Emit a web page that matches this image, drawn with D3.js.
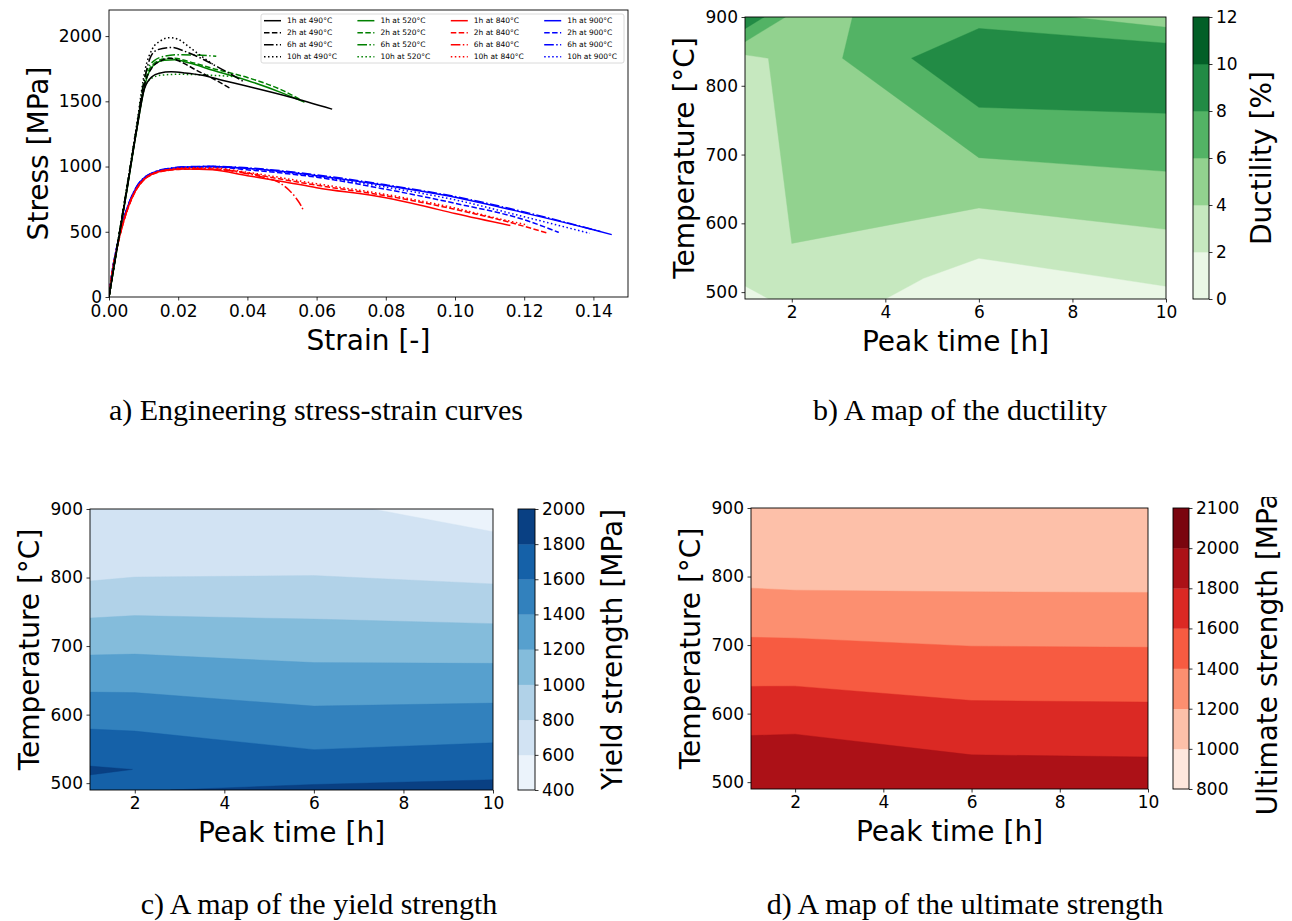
<!DOCTYPE html>
<html>
<head>
<meta charset="utf-8">
<script src="https://cdn.jsdelivr.net/npm/d3@7"></script>
<style>
  body { margin: 0; background: #fff; }
  svg text { font-family: "DejaVu Sans", sans-serif; fill: #000; }
  svg text.caption { font-family: "Liberation Serif", "Times New Roman", serif; }
</style>
</head>
<body>
<script>
// ---- panel a: stress-strain curves, [strain, stress MPa]
var s490_1h = [[0,0],[0.002,320],[0.005,790],[0.008,1280],[0.0103,1600],[0.0125,1690],[0.0145,1715],[0.018,1726],[0.022,1718],[0.027,1700],[0.033,1660],[0.040,1615],[0.052,1535],[0.0645,1440]];
var s490_2h = [[0,0],[0.002,330],[0.005,800],[0.008,1290],[0.0105,1650],[0.0125,1760],[0.015,1810],[0.0176,1831],[0.021,1800],[0.025,1742],[0.030,1675],[0.0351,1599]];
var s490_6h = [[0,0],[0.002,330],[0.005,810],[0.008,1300],[0.0105,1700],[0.0122,1850],[0.014,1895],[0.018,1913],[0.0227,1875],[0.032,1755],[0.039,1650]];
var s490_10h = [[0,0],[0.002,330],[0.005,820],[0.008,1320],[0.0105,1750],[0.0125,1900],[0.015,1965],[0.0175,1988],[0.020,1975],[0.023,1920],[0.026,1860],[0.030,1785]];
var s520_1h = [[0,0],[0.002,320],[0.005,790],[0.008,1280],[0.0105,1640],[0.013,1780],[0.016,1815],[0.019,1818],[0.023,1795],[0.030,1738],[0.040,1660],[0.050,1565],[0.0565,1493]];
var s520_2h = [[0,0],[0.002,330],[0.005,800],[0.008,1290],[0.0105,1660],[0.013,1790],[0.0165,1828],[0.019,1830],[0.023,1805],[0.030,1752],[0.040,1682],[0.050,1586],[0.0563,1498]];
var s520_6h = [[0,0],[0.002,330],[0.005,810],[0.008,1300],[0.0105,1700],[0.013,1810],[0.016,1845],[0.020,1857],[0.025,1855],[0.031,1845]];
var s520_10h = [[0,0],[0.002,330],[0.005,800],[0.008,1290],[0.010,1580],[0.012,1670],[0.015,1700],[0.020,1707],[0.028,1702],[0.036,1690]];
var s840_1h = [[0,0],[0.001,200],[0.002,340],[0.004,560],[0.006,720],[0.008,830],[0.010,898],[0.013,948],[0.017,972],[0.022,982],[0.030,975],[0.040,930],[0.050,886],[0.060,838],[0.080,760],[0.090,703],[0.100,640],[0.116,548]];
var s840_2h = [[0,0],[0.001,195],[0.002,335],[0.004,555],[0.006,715],[0.008,826],[0.010,895],[0.013,945],[0.017,970],[0.022,980],[0.030,982],[0.040,950],[0.050,902],[0.060,857],[0.080,776],[0.100,672],[0.115,578],[0.127,488]];
var s840_6h = [[0,0],[0.001,200],[0.002,340],[0.004,560],[0.006,720],[0.008,830],[0.010,900],[0.013,950],[0.017,975],[0.022,985],[0.030,980],[0.040,945],[0.045,915],[0.049,880],[0.052,820],[0.054,760],[0.0555,700],[0.0563,657]];
var s840_10h = [[0,0],[0.001,205],[0.002,345],[0.004,565],[0.006,725],[0.008,835],[0.010,903],[0.013,952],[0.017,978],[0.022,990],[0.030,990],[0.040,956],[0.060,868],[0.080,786],[0.100,682],[0.113,598],[0.121,552]];
var s900_1h = [[0,0],[0.001,210],[0.002,350],[0.004,575],[0.006,735],[0.008,845],[0.010,910],[0.013,955],[0.017,982],[0.022,995],[0.028,1000],[0.035,995],[0.045,975],[0.060,930],[0.080,855],[0.100,765],[0.120,645],[0.140,515],[0.1453,478]];
var s900_2h = [[0,0],[0.001,205],[0.002,345],[0.004,570],[0.006,730],[0.008,840],[0.010,906],[0.013,952],[0.017,980],[0.022,993],[0.030,997],[0.040,975],[0.050,950],[0.060,918],[0.080,826],[0.100,718],[0.120,592],[0.130,495]];
var s900_6h = [[0,0],[0.001,210],[0.002,352],[0.004,577],[0.006,737],[0.008,848],[0.010,912],[0.013,958],[0.017,985],[0.022,998],[0.030,1002],[0.040,990],[0.060,936],[0.080,860],[0.100,770],[0.120,652],[0.142,502]];
var s900_10h = [[0,0],[0.001,208],[0.002,348],[0.004,573],[0.006,733],[0.008,843],[0.010,908],[0.013,955],[0.017,982],[0.022,996],[0.030,1000],[0.040,985],[0.060,925],[0.080,842],[0.100,745],[0.120,615],[0.139,488]];

var curveTimes = ["1h", "2h", "6h", "10h"];
var curveTemps = ["490°C", "520°C", "840°C", "900°C"];
var curves = [
  [s490_1h, s490_2h, s490_6h, s490_10h],
  [s520_1h, s520_2h, s520_6h, s520_10h],
  [s840_1h, s840_2h, s840_6h, s840_10h],
  [s900_1h, s900_2h, s900_6h, s900_10h]
];
var strainTicks = [0, 0.02, 0.04, 0.06, 0.08, 0.10, 0.12, 0.14];
var stressTicks = [0, 500, 1000, 1500, 2000];

// ---- maps: rows = temperature, columns = peak time
var peakTimes = [1, 2, 6, 10];
var temps = [490, 520, 840, 900];
var ductility = [
  [0.96, 3.0, 1.0, 1.5],
  [2.6, 3.9, 1.2, 2.31],
  [3.47, 4.53, 9.95, 9.9],
  [9.8, 5.4, 7.25, 4.7]
];
var yieldStrength = [
  [1750, 1790, 1840, 1866],
  [1818, 1799, 1691, 1734],
  [633, 660, 683, 630],
  [620, 630, 618, 563]
];
var ultimateStrength = [
  [1950, 1960, 1880, 1870],
  [1934, 1943, 1850, 1842],
  [1041, 1029, 1043, 1042],
  [1020, 1015, 1020, 1018]
];
var ductLevels = [0, 2, 4, 6, 8, 10, 12];
var yieldLevels = [400, 600, 800, 1000, 1200, 1400, 1600, 1800, 2000];
var utsLevels = [800, 1000, 1200, 1400, 1600, 1800, 2000, 2100];
var timeTicks = [2, 4, 6, 8, 10];
var tempTicks = [500, 600, 700, 800, 900];

var svg = d3.select("body").append("svg")
  .attr("width", 1292)
  .attr("height", 921);

function styleAxis(g) {
  g.select(".domain").remove();
  g.selectAll(".tick line").attr("stroke", "#000").attr("stroke-width", 0.8);
  g.selectAll(".tick text").style("font-size", "17px").attr("fill", "#000");
}

function frame(left, top, right, bottom) {
  svg.append("rect")
    .attr("x", left).attr("y", top)
    .attr("width", right - left).attr("height", bottom - top)
    .attr("fill", "none").attr("stroke", "#000").attr("stroke-width", 0.9);
}

// ================= panel a =================
var ax = { left: 109, right: 628, top: 10, bottom: 297 };
var xa = d3.scaleLinear().domain([0, 0.15]).range([ax.left, ax.right]);
var ya = d3.scaleLinear().domain([0, 2200]).range([ax.bottom, ax.top]);

svg.append("clipPath").attr("id", "clipA")
  .append("rect").attr("x", ax.left).attr("y", ax.top)
  .attr("width", ax.right - ax.left).attr("height", ax.bottom - ax.top);

var tempColors = ["#000000", "#008000", "#ff0000", "#0000ff"];
var timeDashes = [null, "5.5,2.4", "9.6,2.4,1.5,2.4", "1.5,2.5"];

var line = d3.line()
  .x(function(d) { return xa(d[0]); })
  .y(function(d) { return ya(d[1]); })
  .curve(d3.curveMonotoneX);

var gLines = svg.append("g").attr("clip-path", "url(#clipA)");
[3, 2, 1, 0].forEach(function(ti) {
  curves[ti].forEach(function(c, hi) {
    gLines.append("path")
      .datum(c)
      .attr("d", line)
      .attr("fill", "none")
      .attr("stroke", tempColors[ti])
      .attr("stroke-width", 1.5)
      .attr("stroke-dasharray", timeDashes[hi]);
  });
});

svg.append("g")
  .attr("transform", "translate(0," + ax.bottom + ")")
  .call(d3.axisBottom(xa).tickValues(strainTicks).tickFormat(d3.format(".2f")).tickSize(3.5).tickPadding(4.5))
  .call(styleAxis);
svg.append("g")
  .attr("transform", "translate(" + ax.left + ",0)")
  .call(d3.axisLeft(ya).tickValues(stressTicks).tickFormat(d3.format("d")).tickSize(3.5).tickPadding(3.5))
  .call(styleAxis);
frame(ax.left, ax.top, ax.right, ax.bottom);

svg.append("text").text("Strain [-]")
  .attr("x", (ax.left + ax.right) / 2).attr("y", 350)
  .attr("text-anchor", "middle").style("font-size", "28px");
svg.append("text").text("Stress [MPa]")
  .attr("transform", "translate(48," + (ax.top + ax.bottom) / 2 + ") rotate(-90)")
  .attr("text-anchor", "middle").style("font-size", "28px");

// legend
var leg = svg.append("g");
leg.append("rect")
  .attr("x", 261).attr("y", 14).attr("width", 363).attr("height", 49)
  .attr("rx", 2).attr("fill", "#fff").attr("fill-opacity", 0.8)
  .attr("stroke", "#d0d0d0").attr("stroke-width", 0.8);
curveTemps.forEach(function(t, ci) {
  curveTimes.forEach(function(h, ri) {
    var lx = 264 + ci * 93.4, ly = 20.7 + ri * 12;
    leg.append("line")
      .attr("x1", lx).attr("x2", lx + 17).attr("y1", ly).attr("y2", ly)
      .attr("stroke", tempColors[ci]).attr("stroke-width", 1.5)
      .attr("stroke-dasharray", timeDashes[ri]);
    leg.append("text").text(h + " at " + t)
      .attr("x", lx + 23).attr("y", ly + 2.7)
      .style("font-size", "7.5px");
  });
});

// ================= contour maps =================
// d3.contours puts sample i at grid coordinate i + 0.5
function gridToData(g, arr) {
  var t = g - 0.5;
  if (t <= 0) return arr[0];
  if (t >= arr.length - 1) return arr[arr.length - 1];
  var i = Math.floor(t);
  return arr[i] + (t - i) * (arr[i + 1] - arr[i]);
}

function drawMap(opt) {
  var x = d3.scaleLinear().domain([1, 10]).range([opt.left, opt.right]);
  var y = d3.scaleLinear().domain([490, 900]).range([opt.bottom, opt.top]);
  var lv = opt.levels;
  var lo = lv[0], hi = lv[lv.length - 1];
  var colors = d3.range(lv.length - 1).map(function(k) {
    return opt.cmap(((lv[k] + lv[k + 1]) / 2 - lo) / (hi - lo));
  });

  var values = [];
  opt.grid.forEach(function(row) { row.forEach(function(v) { values.push(v); }); });
  var bands = d3.contours()
    .size([peakTimes.length, temps.length])
    .thresholds(lv.slice(0, -1))(values);

  var proj = d3.geoTransform({
    point: function(px, py) {
      this.stream.point(x(gridToData(px, peakTimes)), y(gridToData(py, temps)));
    }
  });
  var path = d3.geoPath(proj);

  var id = "clip" + opt.name;
  svg.append("clipPath").attr("id", id)
    .append("rect").attr("x", opt.left).attr("y", opt.top)
    .attr("width", opt.right - opt.left).attr("height", opt.bottom - opt.top);

  svg.append("g").attr("clip-path", "url(#" + id + ")")
    .selectAll("path")
    .data(bands)
    .join("path")
    .attr("d", path)
    .attr("fill", function(d, k) { return colors[k]; })
    .attr("stroke", function(d, k) { return colors[k]; })
    .attr("stroke-width", 0.4)
    .attr("fill-rule", "evenodd");

  svg.append("g")
    .attr("transform", "translate(0," + opt.bottom + ")")
    .call(d3.axisBottom(x).tickValues(timeTicks).tickSize(3.5).tickPadding(3.5))
    .call(styleAxis);
  svg.append("g")
    .attr("transform", "translate(" + opt.left + ",0)")
    .call(d3.axisLeft(y).tickValues(tempTicks).tickSize(3.5).tickPadding(3.5))
    .call(styleAxis);
  frame(opt.left, opt.top, opt.right, opt.bottom);

  svg.append("text").text("Peak time [h]")
    .attr("x", (opt.left + opt.right) / 2).attr("y", opt.bottom + 52)
    .attr("text-anchor", "middle").style("font-size", "28px");
  svg.append("text").text("Temperature [°C]")
    .attr("transform", "translate(" + (opt.left - 51) + "," + (opt.top + opt.bottom) / 2 + ") rotate(-90)")
    .attr("text-anchor", "middle").style("font-size", "28px");

  // colorbar, one equal step per band
  var cb = d3.scaleLinear().domain([0, lv.length - 1]).range([opt.bottom, opt.top]);
  var cbg = svg.append("g");
  colors.forEach(function(c, k) {
    cbg.append("rect")
      .attr("x", opt.cbLeft).attr("width", opt.cbWidth)
      .attr("y", cb(k + 1)).attr("height", cb(k) - cb(k + 1) + 0.3)
      .attr("fill", c);
  });
  cbg.append("rect")
    .attr("x", opt.cbLeft).attr("y", opt.top)
    .attr("width", opt.cbWidth).attr("height", opt.bottom - opt.top)
    .attr("fill", "none").attr("stroke", "#000").attr("stroke-width", 0.9);
  svg.append("g")
    .attr("transform", "translate(" + (opt.cbLeft + opt.cbWidth) + ",0)")
    .call(d3.axisRight(cb).tickValues(d3.range(lv.length))
      .tickFormat(function(i) { return lv[i]; }).tickSize(3.5).tickPadding(3.5))
    .call(styleAxis);

  var labG = svg.append("g");
  if (opt.labelClip) {
    svg.append("clipPath").attr("id", id + "lab")
      .append("rect").attr("x", 0).attr("y", opt.labelClip).attr("width", 1292).attr("height", 921);
    labG.attr("clip-path", "url(#" + id + "lab)");
  }
  labG.append("text").text(opt.label)
    .attr("transform", "translate(" + opt.labelX + "," + (opt.top + opt.bottom) / 2 + ") rotate(-90)")
    .attr("text-anchor", "middle").style("font-size", "28px");
}

drawMap({
  name: "B", grid: ductility, levels: ductLevels, cmap: d3.interpolateGreens,
  left: 745, right: 1166, top: 17, bottom: 299,
  cbLeft: 1193, cbWidth: 16, label: "Ductility [%]", labelX: 1271
});
drawMap({
  name: "C", grid: yieldStrength, levels: yieldLevels, cmap: d3.interpolateBlues,
  left: 90, right: 493, top: 509, bottom: 790,
  cbLeft: 518, cbWidth: 17, label: "Yield strength [MPa]", labelX: 622
});
drawMap({
  name: "D", grid: ultimateStrength, levels: utsLevels, cmap: d3.interpolateReds,
  left: 751, right: 1148, top: 508, bottom: 789,
  cbLeft: 1173, cbWidth: 16, label: "Ultimate strength [MPa]", labelX: 1277, labelClip: 497
});

// captions
var captions = [
  { t: "a) Engineering stress-strain curves", x: 316, y: 420 },
  { t: "b) A map of the ductility", x: 960, y: 420 },
  { t: "c) A map of the yield strength", x: 319, y: 914 },
  { t: "d) A map of the ultimate strength", x: 965, y: 914 }
];
svg.selectAll("text.caption")
  .data(captions)
  .join("text")
  .attr("class", "caption")
  .attr("x", function(d) { return d.x; })
  .attr("y", function(d) { return d.y; })
  .attr("text-anchor", "middle")
  .style("font-size", "30px")
  .text(function(d) { return d.t; });
</script>
</body>
</html>
